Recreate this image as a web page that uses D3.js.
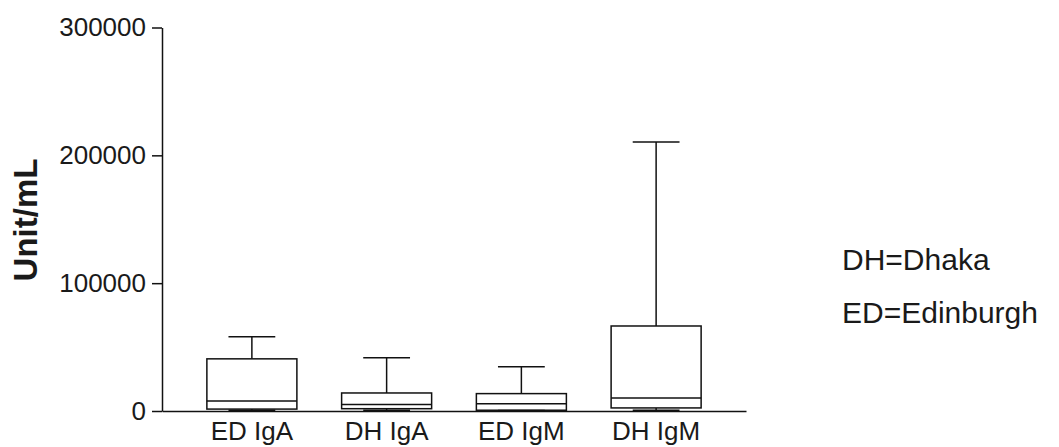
<!DOCTYPE html>
<html>
<head>
<meta charset="utf-8">
<script src="https://cdn.jsdelivr.net/npm/d3@7"></script>
<style>
  body { margin: 0; background: #fff; }
  text { font-family: "Liberation Sans", Arial, sans-serif; fill: #1a1a1a; }
</style>
</head>
<body>
<script>
    // categories and box statistics (Unit/mL)
    var groups = ["ED IgA", "DH IgA", "ED IgM", "DH IgM"];
    var mins    = [500, 500, 300, 500];
    var q1s     = [1500, 1800, 600, 2400];
    var medians = [7800, 5000, 5700, 10200];
    var q3s     = [40800, 14100, 13600, 66500];
    var maxs    = [58000, 41600, 34600, 210500];
    var yTicks  = [0, 100000, 200000, 300000];
    var legendLines = ["DH=Dhaka", "ED=Edinburgh"];

    var boxData = groups.map(function(g, i) {
        return {name: g, min: mins[i], q1: q1s[i], med: medians[i], q3: q3s[i], max: maxs[i]};
    });

    var width = 1059, height = 447;

    var svg = d3.select("body").append("svg")
        .attr("width", width)
        .attr("height", height);

    // Set the ranges
    var xScale = d3.scaleBand().domain(groups).range([162, 746])
        .paddingInner(0.332).paddingOuter(0.333);
    var yScale = d3.scaleLinear().domain([0, 300000]).range([411, 27.5]);

    // y axis
    var yAxis = svg.append("g")
        .attr("transform", "translate(162,0)")
        .call(d3.axisLeft(yScale).tickValues(yTicks).tickSize(10).tickSizeOuter(0)
            .tickFormat(function(d) { return d; }));
    yAxis.select(".domain").attr("stroke", "#111").attr("stroke-width", 1.5);
    yAxis.selectAll(".tick line").attr("stroke", "#111").attr("stroke-width", 1.5);
    yAxis.selectAll(".tick text")
        .attr("x", -16)
        .style("font-size", "26px")
        .style("font-family", "Liberation Sans, Arial, sans-serif")
        .attr("fill", "#1a1a1a");

    // x axis
    var xAxis = svg.append("g")
        .attr("transform", "translate(0," + yScale(0) + ")")
        .call(d3.axisBottom(xScale).tickSize(0).tickSizeOuter(0));
    xAxis.select(".domain").attr("stroke", "#111").attr("stroke-width", 1.5);
    xAxis.selectAll(".tick text")
        .attr("y", 11)
        .style("font-size", "26px")
        .style("font-family", "Liberation Sans, Arial, sans-serif")
        .attr("fill", "#1a1a1a");

    // y axis title
    svg.append("text")
        .attr("transform", "translate(37,220) rotate(-90)")
        .attr("text-anchor", "middle")
        .style("font-size", "33px")
        .style("font-weight", "bold")
        .text("Unit/mL");

    // boxes
    var bw = xScale.bandwidth();
    var capW = bw * 0.52;
    var boxes = svg.selectAll(".box")
        .data(boxData)
        .enter().append("g")
        .attr("class", "box")
        .attr("stroke", "#111")
        .attr("stroke-width", 1.5)
        .attr("fill", "none");

    // whiskers
    boxes.append("line")
        .attr("x1", function(d) { return xScale(d.name) + bw / 2; })
        .attr("x2", function(d) { return xScale(d.name) + bw / 2; })
        .attr("y1", function(d) { return yScale(d.max); })
        .attr("y2", function(d) { return yScale(d.q3); });
    boxes.append("line")
        .attr("x1", function(d) { return xScale(d.name) + bw / 2; })
        .attr("x2", function(d) { return xScale(d.name) + bw / 2; })
        .attr("y1", function(d) { return yScale(d.q1); })
        .attr("y2", function(d) { return yScale(d.min); });

    // caps
    boxes.append("line")
        .attr("x1", function(d) { return xScale(d.name) + (bw - capW) / 2; })
        .attr("x2", function(d) { return xScale(d.name) + (bw + capW) / 2; })
        .attr("y1", function(d) { return yScale(d.max); })
        .attr("y2", function(d) { return yScale(d.max); });
    boxes.append("line")
        .attr("x1", function(d) { return xScale(d.name) + (bw - capW) / 2; })
        .attr("x2", function(d) { return xScale(d.name) + (bw + capW) / 2; })
        .attr("y1", function(d) { return yScale(d.min); })
        .attr("y2", function(d) { return yScale(d.min); });

    // box body
    boxes.append("rect")
        .attr("x", function(d) { return xScale(d.name); })
        .attr("y", function(d) { return yScale(d.q3); })
        .attr("width", bw)
        .attr("height", function(d) { return yScale(d.q1) - yScale(d.q3); });

    // median
    boxes.append("line")
        .attr("x1", function(d) { return xScale(d.name); })
        .attr("x2", function(d) { return xScale(d.name) + bw; })
        .attr("y1", function(d) { return yScale(d.med); })
        .attr("y2", function(d) { return yScale(d.med); });

    // legend text
    svg.selectAll(".legend")
        .data(legendLines)
        .enter().append("text")
        .attr("class", "legend")
        .attr("x", 842)
        .attr("y", function(d, i) { return 270 + i * 53; })
        .style("font-size", "30px")
        .text(function(d) { return d; });
</script>
</body>
</html>
